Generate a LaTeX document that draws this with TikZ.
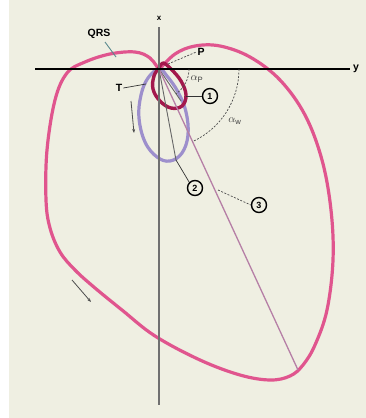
\documentclass[tikz,border=0pt]{standalone}
\usepackage{fontspec}
\setmainfont{Liberation Sans}
\usetikzlibrary{arrows.meta}
\definecolor{bgc}{HTML}{EFEFE2}
\definecolor{qrsc}{HTML}{E0558E}
\definecolor{pc}{HTML}{A3184C}
\definecolor{tc}{HTML}{9D8FCC}
\definecolor{vec3}{HTML}{B67FA6}
\definecolor{axg}{HTML}{707070}
\definecolor{lead}{HTML}{5A8A8E}
\tikzset{
  lbl/.style={font=\bfseries\fontsize{10.5}{12}\selectfont, inner sep=1pt},
  greek/.style={font=\fontsize{11}{12}\selectfont, inner sep=1pt, text=black!75},
  circnum/.style={draw=black, line width=1.4pt, circle, minimum size=15pt, inner sep=0pt, font=\bfseries\fontsize{9}{10}\selectfont},
  loopline/.style={line width=3.2pt, line join=round},
  vecline/.style={line width=0.9pt, draw=black!60},
  leadline/.style={line width=0.7pt, draw=black!80},
  dashlead/.style={line width=0.7pt, draw=black!70, dash pattern=on 2pt off 1.5pt},
}
\begin{document}
\begin{tikzpicture}[x=1pt,y=-1pt]
\useasboundingbox (0,0) rectangle (366,418);
\fill[white] (0,0) rectangle (366,418);
\fill[bgc] (9,0) rectangle (366,418);

\coordinate (O) at (159,69);

% QRS loop
\draw[qrsc, loopline] plot[smooth, tension=0.6] coordinates {
 (159,70) (150,58) (135,52) (110,54) (85,62) (67,73) (55,100) (47,150) (46,200) (50,228) (60,252) (75,270)
 (95,288) (122,310) (155,336) (200,360) (240,375) (270,380) (290,376) (303,365) (315,345) (327,310) (333,260)
 (331,210) (322,160) (305,115) (280,80) (250,57) (220,46) (195,46) (175,54) (159,70)};

% T loop
\draw[tc, loopline] plot[smooth cycle, tension=0.65] coordinates {
 (159,69) (148,78) (141,95) (139,118) (145,142) (157,157) (170,161) (182,153) (188,135) (186,112) (178,92) (167,76)};

% P loop
\draw[pc, loopline, line width=3.4pt] plot[smooth cycle, tension=0.65] coordinates {
 (159,68) (154,76) (153,89) (160,101) (171,108) (182,106) (186,95) (181,81) (171,69) (163,63)};

% vectors
\coordinate (V1) at (181,101);
\coordinate (V2) at (176,160);
\coordinate (V3) at (298,370);
\draw[vecline] (O) -- (V1);
\draw[vecline] (O) -- (V2);
\draw[vec3, line width=1.3pt] (O) -- (V3);

% axes
\draw[axg, line width=2.4pt] (159,27) coordinate (xtop) -- (159,405) coordinate (xbot);
\draw[black, line width=1.3pt] (35,69) coordinate (yl) -- (350,69) coordinate (yr);
\node[lbl, font=\bfseries\fontsize{8}{9}\selectfont] (xl) at (159,18) {x};
\node[lbl, anchor=west] (ylab) at (352,69) {y};

% angle arcs
\draw[dashlead] (189,69) arc[start angle=0, end angle=55, radius=30];
\draw[dashlead] (239,69) arc[start angle=0, end angle=65.2, radius=80];
\node[greek] (ap) at (197,79) {$\alpha_{\mathrm{P}}$};
\node[greek] (aw) at (235,121) {$\alpha_{\mathrm{w}}$};

% labels
\node[lbl] (qrs) at (99,34) {QRS};
\coordinate (qrsend) at (116,57);
\draw[lead, line width=0.9pt] (105,42) -- (qrsend);

\node[lbl] (P) at (201,52) {P};
\coordinate (pend) at (168,64);
\draw[dashlead] (pend) -- (P.west);

\node[lbl] (T) at (119,88) {T};
\coordinate (tend) at (146,84);
\draw[leadline] (T.east) -- (tend);

\node[circnum] (n1) at (210,96) {1};
\coordinate (p1) at (186,96);
\draw[leadline] (p1) -- (n1.west);

\node[circnum] (n2) at (195,188) {2};
\draw[leadline] (V2) -- (n2.north west);

\node[circnum] (n3) at (259,205) {3};
\coordinate (p3) at (218,190);
\draw[dashlead] (p3) -- (n3.west);

% rotation arrows
\coordinate (ra1) at (131,101);
\coordinate (ra2) at (134,133);
\draw[black!70, line width=0.8pt, -{Stealth[length=4pt,width=3pt]}] (ra1) -- (ra2);
\coordinate (rb1) at (72,280);
\coordinate (rb2) at (91,302);
\draw[black!70, line width=0.8pt, -{Stealth[length=4pt,width=3pt]}] (rb1) -- (rb2);
\end{tikzpicture}
\end{document}
